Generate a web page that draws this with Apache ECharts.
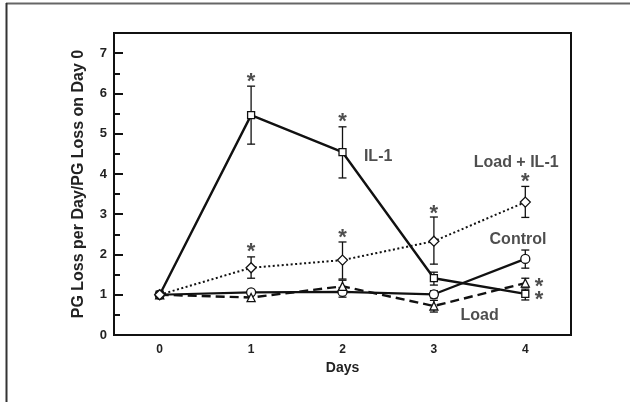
<!DOCTYPE html>
<html>
<head>
<meta charset="utf-8">
<script src="https://cdn.jsdelivr.net/npm/echarts@6/dist/echarts.min.js"></script>
<style>
  html, body { margin: 0; padding: 0; background: #fff; }
  #main { width: 630px; height: 402px; }
</style>
</head>
<body>
<div id="main"></div>
<script>
// days on the x axis
const days = ['0', '1', '2', '3', '4'];

// mean values
const il1 = [1, 5.46, 4.54, 1.41, 1.02];
const loadIl1 = [1, 1.67, 1.86, 2.33, 3.30];
const control = [1, 1.06, 1.07, 1.01, 1.89];
const load = [1, 0.93, 1.21, 0.72, 1.29];

// error bar ends (null = no bar drawn)
const il1Low = [null, 4.74, 3.90, 1.24, 0.87];
const il1High = [null, 6.18, 5.17, 1.56, 1.14];
const loadIl1Low = [null, 1.41, 1.39, 1.76, 2.92];
const loadIl1High = [null, 1.94, 2.31, 2.93, 3.69];
const controlLow = [null, null, 0.94, 0.92, 1.66];
const controlHigh = [null, null, 1.18, 1.10, 2.11];
const loadLow = [null, null, 1.08, 0.57, 1.19];
const loadHigh = [null, null, 1.36, 0.86, 1.41];

// significance asterisks [day, value]
const stars = [[1, 6.41], [2, 5.41], [3, 3.13], [1, 2.19], [2, 2.53], [4, 3.92], [4.15, 1.31], [4.15, 0.99]];

// series labels [day, value, text]
const seriesLabels = [[2.39, 4.42, 'IL-1'], [3.9, 4.27, 'Load + IL-1'], [3.92, 2.36, 'Control'], [3.5, 0.47, 'Load']];

const yTicks = [0, 1, 2, 3, 4, 5, 6, 7];

const ink = '#111';
const textInk = '#222';
const font = 'Liberation Sans, Arial, sans-serif';

const errData = (lo, hi) => lo.map((v, i) => v == null ? null : [i, v, hi[i]]).filter(Boolean);

const errSeries = (lo, hi) => ({
  type: 'custom',
  z: 1,
  silent: true,
  renderItem: (params, api) => {
    const a = api.coord([api.value(0), api.value(1)]);
    const b = api.coord([api.value(0), api.value(2)]);
    const w = 4;
    const st = { stroke: ink, lineWidth: 1.3 };
    return {
      type: 'group',
      children: [
        { type: 'line', shape: { x1: a[0], y1: a[1], x2: b[0], y2: b[1] }, style: st },
        { type: 'line', shape: { x1: a[0] - w, y1: a[1], x2: a[0] + w, y2: a[1] }, style: st },
        { type: 'line', shape: { x1: b[0] - w, y1: b[1], x2: b[0] + w, y2: b[1] }, style: st }
      ]
    };
  },
  data: errData(lo, hi)
});

const lineSeries = (name, data, symbol, size, lineType, width) => ({
  name: name,
  type: 'line',
  z: 3,
  data: data,
  symbol: symbol,
  symbolSize: size,
  showAllSymbol: true,
  lineStyle: { color: ink, width: width, type: lineType },
  itemStyle: { color: '#fff', borderColor: ink, borderWidth: 1.3 },
  emphasis: { disabled: true }
});

const chart = echarts.init(document.getElementById('main'));

chart.setOption({
  animation: false,
  backgroundColor: '#fff',
  textStyle: { fontFamily: font },
  graphic: [
    { type: 'line', shape: { x1: 6, y1: 3.5, x2: 630, y2: 3.5 }, style: { stroke: '#666', lineWidth: 2 } },
    { type: 'line', shape: { x1: 6.5, y1: 3, x2: 6.5, y2: 402 }, style: { stroke: '#333', lineWidth: 2 } }
  ],
  grid: {
    left: 114, right: 59, top: 33, bottom: 67,
    show: true, borderColor: ink, borderWidth: 2
  },
  xAxis: [
    {
      type: 'category',
      data: days,
      boundaryGap: true,
      name: 'Days',
      nameLocation: 'middle',
      nameGap: 24,
      nameTextStyle: { color: textInk, fontSize: 14, fontWeight: 'bold', fontFamily: font },
      axisLine: { onZero: false, lineStyle: { color: ink, width: 2 } },
      axisTick: { alignWithLabel: true, inside: true, length: 8, lineStyle: { color: ink, width: 2 } },
      axisLabel: { color: textInk, fontSize: 12, fontWeight: 'bold', margin: 9 },
      splitLine: { show: false }
    },
    {
      type: 'value', min: -0.5, max: 4.5, show: false
    }
  ],
  yAxis: [
    {
      type: 'value',
      min: 0, max: 7.5, interval: 0.5,
      name: 'PG Loss per Day/PG Loss on Day 0',
      nameLocation: 'middle',
      nameRotate: 90,
      nameGap: 27,
      nameTextStyle: { color: textInk, fontSize: 16, fontWeight: 'bold', fontFamily: font },
      axisLine: { show: true, onZero: false, lineStyle: { color: ink, width: 2 } },
      axisTick: { inside: true, length: 6, lineStyle: { color: ink, width: 2 } },
      axisLabel: {
        color: textInk, fontSize: 13, fontWeight: 'bold', margin: 7,
        formatter: v => yTicks.indexOf(v) >= 0 ? String(v) : ''
      },
      splitLine: { show: false }
    },
    {
      type: 'value',
      min: 0, max: 7.5, interval: 1,
      position: 'left',
      axisLine: { show: false, onZero: false },
      axisTick: { show: true, inside: true, length: 9, lineStyle: { color: ink, width: 2 } },
      axisLabel: { show: false },
      splitLine: { show: false }
    }
  ],
  series: [
    errSeries(il1Low, il1High),
    errSeries(loadIl1Low, loadIl1High),
    errSeries(controlLow, controlHigh),
    errSeries(loadLow, loadHigh),
    lineSeries('Control', control, 'circle', 9, 'solid', 2.2),
    lineSeries('Load', load, 'triangle', 8, [9, 5], 2.4),
    lineSeries('IL-1', il1, 'rect', 7, 'solid', 2.4),
    lineSeries('Load + IL-1', loadIl1, 'diamond', 10, [2, 2.5], 2),
    {
      type: 'scatter',
      xAxisIndex: 1,
      symbolSize: 0,
      silent: true,
      z: 4,
      data: stars,
      label: {
        show: true, position: 'inside', formatter: '*',
        color: textInk, fontSize: 22, fontWeight: 'bold', fontFamily: font,
        offset: [0, 5]
      }
    },
    {
      type: 'scatter',
      xAxisIndex: 1,
      symbolSize: 0,
      silent: true,
      z: 4,
      data: seriesLabels.map(d => ({ value: [d[0], d[1]], name: d[2] })),
      label: {
        show: true, position: 'inside', formatter: '{b}',
        color: textInk, fontSize: 16, fontWeight: 'bold', fontFamily: font
      }
    }
  ]
});
</script>
</body>
</html>
